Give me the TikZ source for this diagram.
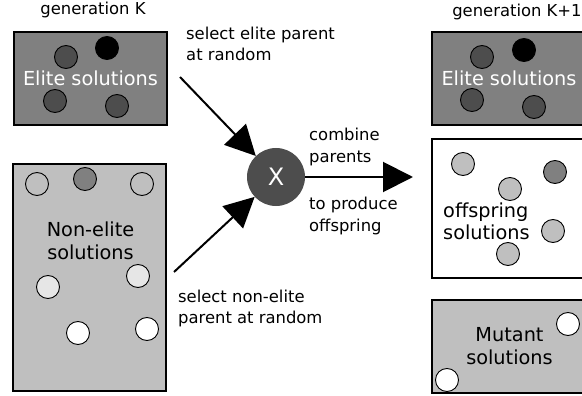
\documentclass[tikz,border=0pt]{standalone}
\usepackage{fontspec}
\setmainfont{DejaVu Sans}
\usetikzlibrary{arrows.meta}
\definecolor{elitebox}{HTML}{808080}
\definecolor{darkdot}{HTML}{4D4D4D}
\definecolor{lightbox}{HTML}{BFBFBF}
\definecolor{paledot}{HTML}{E6E6E6}
\begin{document}
\begin{tikzpicture}[x=1pt,y=-1pt,
  box/.style={draw=black,line width=1.1pt},
  dot/.style={circle,draw=black,line width=0.9pt,minimum size=23pt,inner sep=0pt},
  lbl/.style={font=\fontsize{16.4}{21}\selectfont,inner sep=0pt,align=left},
  big/.style={font=\fontsize{19.3}{23}\selectfont,inner sep=0pt},
  arr/.style={line width=2pt,-{Triangle[length=30pt,width=30pt]}}]
\useasboundingbox (0,0) rectangle (582,396);
\clip (0,0) rectangle (582,396);
% left elite box
\draw[box,fill=elitebox] (14,32) rectangle (167,125);
\node[dot,fill=darkdot] (e1) at (66,57) {};
\node[dot,fill=black] (e2) at (107,48) {};
\node[dot,fill=darkdot] (e3) at (55,101) {};
\node[dot,fill=darkdot] (e4) at (117,106) {};
\node[big,text=white,anchor=base] (elt) at (90.5,86) {Elite solutions};
\node[lbl,anchor=base] (genk) at (93,15) {generation K};
% left non-elite box
\draw[box,fill=lightbox] (13,164) rectangle (166,391);
\node[dot,fill=lightbox] (n1) at (37,184) {};
\node[dot,fill=elitebox] (n2) at (85,179) {};
\node[dot,fill=lightbox] (n3) at (142,184) {};
\node[dot,fill=paledot] (n4) at (48,287) {};
\node[dot,fill=paledot] (n5) at (138,276) {};
\node[dot,fill=white] (n6) at (78,333) {};
\node[dot,fill=white] (n7) at (147,329) {};
\node[big,anchor=base,align=center] (net) at (90.5,259) {Non-elite\\solutions};
% crossover
\node[circle,fill=darkdot,minimum size=58pt,inner sep=0pt,text=white,font=\fontsize{24}{24}\selectfont] (X) at (276,177) {X};
\coordinate (s1) at (180,77);
\coordinate (s2) at (174,272);
\coordinate (t3) at (413,177);
\draw[arr] (s1) -- (X);
\draw[arr] (s2) -- (X);
\draw[arr] (X) -- (t3);
\node[lbl,anchor=base west] (la) at (186,61) {select elite parent\\at random};
\node[lbl,anchor=base west] (lb) at (309,162) {combine\\parents};
\node[lbl,anchor=base west] (lc) at (309,231) {to produce\\offspring};
\node[lbl,anchor=base west] (ld) at (178,323) {select non-elite\\parent at random};
% right side
\node[lbl,anchor=base] (genk1) at (517,17) {generation K+1};
\draw[box,fill=elitebox] (432,32) rectangle (590,125);
\node[dot,fill=darkdot] (r1) at (482,57) {};
\node[dot,fill=black] (r2) at (524,50) {};
\node[dot,fill=darkdot] (r3) at (472,100) {};
\node[dot,fill=darkdot] (r4) at (534,107) {};
\node[big,text=white,anchor=base] (relt) at (509,86) {Elite solutions};
\draw[box,fill=white] (432,139) rectangle (590,278);
\node[dot,fill=lightbox] (o1) at (463,164) {};
\node[dot,fill=lightbox] (o2) at (510,189) {};
\node[dot,fill=elitebox] (o3) at (555,172) {};
\node[dot,fill=lightbox] (o4) at (553,231) {};
\node[dot,fill=lightbox] (o5) at (508,254) {};
\node[big,anchor=base west,align=left] (oft) at (443,240) {offspring\\solutions};
\draw[box,fill=lightbox] (432,300) rectangle (590,393);
\node[dot,fill=white] (m1) at (568,324) {};
\node[dot,fill=white] (m2) at (447,380) {};
\node[big,anchor=base,align=center] (mut) at (509.5,364) {Mutant\\solutions};
\end{tikzpicture}
\end{document}
